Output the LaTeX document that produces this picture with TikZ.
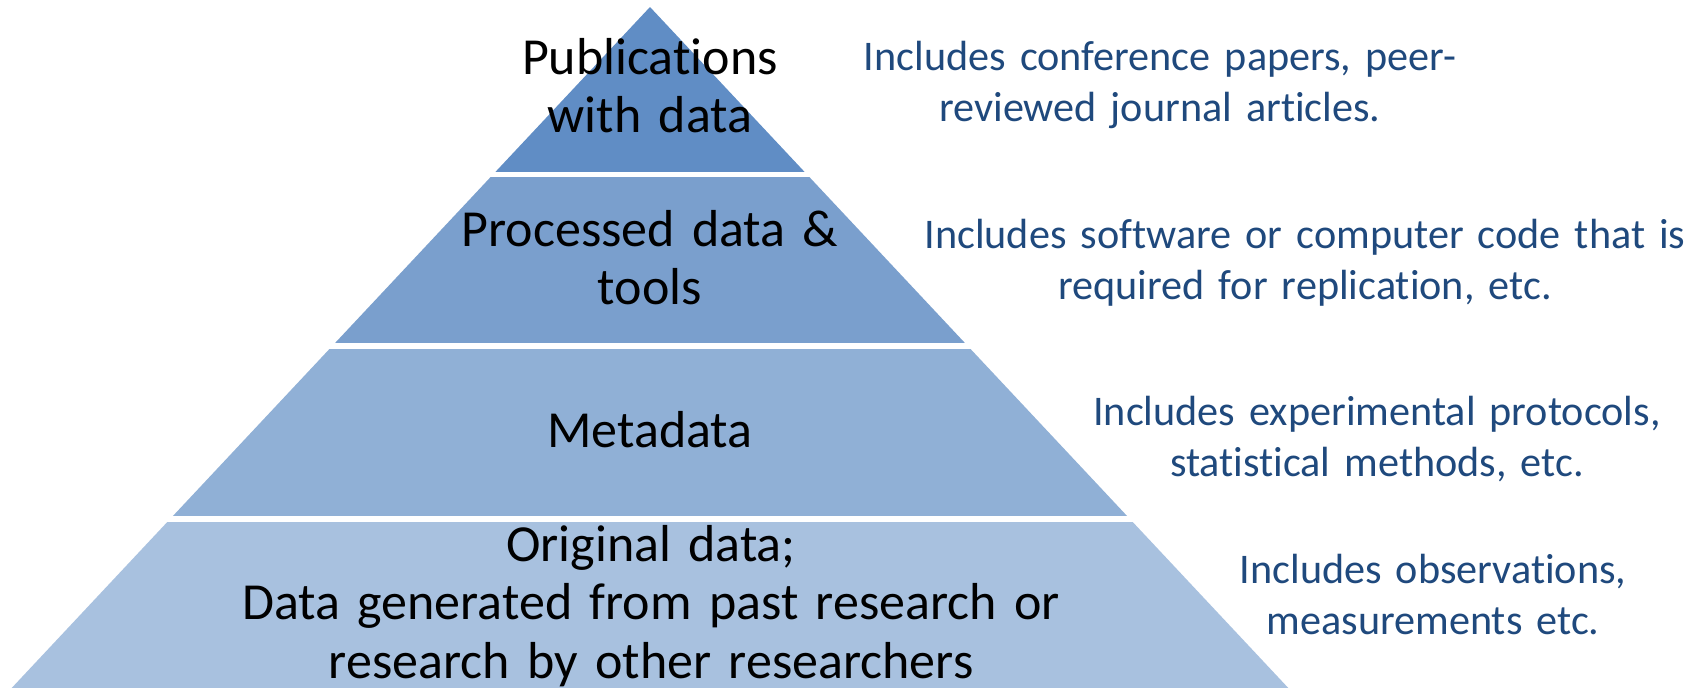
\documentclass[tikz,border=0pt]{standalone}
\usepackage{fontspec}
\setmainfont{Carlito}[Ligatures=NoCommon]
\definecolor{bandA}{RGB}{96,141,197}
\definecolor{bandB}{RGB}{122,159,205}
\definecolor{bandC}{RGB}{144,176,214}
\definecolor{bandD}{RGB}{168,193,223}
\definecolor{notecol}{RGB}{31,73,125}
\begin{document}
\begin{tikzpicture}[x=0.5pt,y=-0.5pt,
  lbl/.style={text width=440pt, align=center, inner sep=0pt, anchor=base, text=black, font=\fontsize{26}{29.3}\selectfont},
  note/.style={text width=400pt, align=center, inner sep=0pt, anchor=base, text=notecol, font=\fontsize{21.1}{25.8}\selectfont}]
\useasboundingbox (0,0) rectangle (1694,687);
\fill[white] (0,0) rectangle (1694,687);
\begin{scope}
  \clip (650,7) -- (1294.4,694.5) -- (5.6,694.5) -- cycle;
  \fill[bandA] (0,0) rectangle (1694,172);
  \fill[bandB] (0,177.3) rectangle (1694,343.3);
  \fill[bandC] (0,349) rectangle (1694,515.7);
  \fill[bandD] (0,521.7) rectangle (1694,700);
\end{scope}
\node[lbl] (pub) at (650,74) {Publications\\with data};
\node[lbl] (proc) at (650,246) {Processed data \&\\tools};
\node[lbl] (meta) at (650,447) {Metadata};
\node[lbl] (orig) at (651,561) {Original data;\\Data generated from past research or\\research by other researchers};
\node[note] (d1) at (1160,70) {Includes conference papers, peer-\\reviewed journal articles.};
\node[note] (d2) at (1305,248) {Includes software or computer code that is\\required for replication, etc.};
\node[note] (d3) at (1377,425) {Includes experimental protocols,\\statistical methods, etc.};
\node[note] (d4) at (1433,583) {Includes observations,\\measurements etc.};
\end{tikzpicture}
\end{document}
